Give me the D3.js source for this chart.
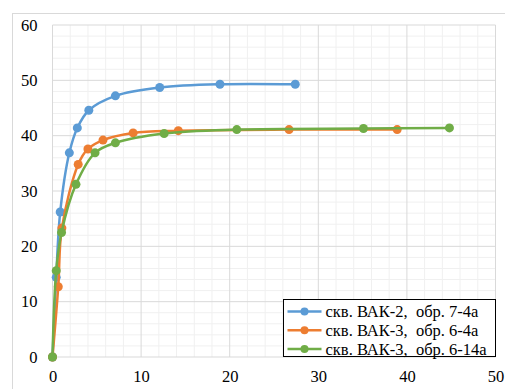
<!DOCTYPE html>
<html>
<head>
<meta charset="utf-8">
<script src="https://cdn.jsdelivr.net/npm/d3@7"></script>
<style>
  body { margin: 0; background: #fff; }
  svg text { font-family: "Liberation Serif", "Times New Roman", serif; }
</style>
</head>
<body>
<div id="chart"></div>
<script>
const width = 505;
const height = 389;

// series data
const names = [
  "скв. ВАК-2,  обр. 7-4а",
  "скв. ВАК-3,  обр. 6-4а",
  "скв. ВАК-3,  обр. 6-14а"
];
const colors = ["#5B9BD5", "#ED7D31", "#70AD47"];

const xBlue = [0, 0.42, 0.87, 1.9, 2.8, 4.1, 7.1, 12.1, 18.9, 27.4];
const yBlue = [0, 14.4, 26.2, 36.9, 41.4, 44.6, 47.2, 48.7, 49.3, 49.3];

const xOrange = [0, 0.65, 1.06, 2.9, 4.0, 5.7, 9.1, 14.2, 26.7, 38.9];
const yOrange = [0, 12.7, 23.3, 34.8, 37.6, 39.2, 40.5, 40.9, 41.1, 41.1];

const xGreen = [0, 0.42, 1.02, 2.65, 4.8, 7.1, 12.6, 20.8, 35.1, 44.8];
const yGreen = [0, 15.6, 22.5, 31.2, 36.9, 38.7, 40.4, 41.1, 41.3, 41.4];

const xTicks = [0, 10, 20, 30, 40, 50];
const yTicks = [0, 10, 20, 30, 40, 50, 60];

const series = [
  { name: names[0], color: colors[0], pts: xBlue.map((x, i) => [x, yBlue[i]]) },
  { name: names[1], color: colors[1], pts: xOrange.map((x, i) => [x, yOrange[i]]) },
  { name: names[2], color: colors[2], pts: xGreen.map((x, i) => [x, yGreen[i]]) }
];

const margin = { top: 25, right: 9.5, bottom: 32, left: 52.5 };

const svg = d3.select("#chart")
  .append("svg")
  .attr("width", width)
  .attr("height", height);

// outer chart border (cut off at right and bottom)
svg.append("rect")
  .attr("x", 12.5).attr("y", 13.5)
  .attr("width", 520).attr("height", 400)
  .attr("fill", "none")
  .attr("stroke", "#d9d9d9");

const x = d3.scaleLinear().domain([0, 50]).range([margin.left, width - margin.right]);
const y = d3.scaleLinear().domain([0, 60]).range([height - margin.bottom, margin.top]);

// minor grid
const minorX = d3.range(0, 51, 2).filter(d => d % 10 !== 0);
const minorY = d3.range(0, 61, 2).filter(d => d % 10 !== 0);

svg.append("g")
  .selectAll("line")
  .data(minorX)
  .enter()
  .append("line")
  .attr("x1", d => x(d)).attr("x2", d => x(d))
  .attr("y1", y(0)).attr("y2", y(60))
  .attr("stroke", "#f0f0f0").attr("stroke-width", 1);

svg.append("g")
  .selectAll("line")
  .data(minorY)
  .enter()
  .append("line")
  .attr("y1", d => y(d)).attr("y2", d => y(d))
  .attr("x1", x(0)).attr("x2", x(50))
  .attr("stroke", "#f0f0f0").attr("stroke-width", 1);

// major grid
svg.append("g")
  .selectAll("line")
  .data(xTicks)
  .enter()
  .append("line")
  .attr("x1", d => x(d)).attr("x2", d => x(d))
  .attr("y1", y(0)).attr("y2", y(60))
  .attr("stroke", "#d9d9d9").attr("stroke-width", 1);

svg.append("g")
  .selectAll("line")
  .data(yTicks)
  .enter()
  .append("line")
  .attr("y1", d => y(d)).attr("y2", d => y(d))
  .attr("x1", x(0)).attr("x2", x(50))
  .attr("stroke", "#d9d9d9").attr("stroke-width", 1);

// axes labels
const xAxis = svg.append("g")
  .attr("transform", `translate(0, ${y(0)})`)
  .call(d3.axisBottom(x).tickValues(xTicks).tickSize(0).tickPadding(13))
  .attr("font-family", "Liberation Serif")
  .attr("font-size", 16.5);
xAxis.select(".domain").remove();
xAxis.selectAll("text").attr("fill", "#000");

const yAxis = svg.append("g")
  .attr("transform", `translate(${x(0)}, 0)`)
  .call(d3.axisLeft(y).tickValues(yTicks).tickSize(0).tickPadding(15))
  .attr("font-family", "Liberation Serif")
  .attr("font-size", 16.5);
yAxis.select(".domain").remove();
yAxis.selectAll("text").attr("fill", "#000");

// lines
const line = d3.line()
  .x(d => x(d[0]))
  .y(d => y(d[1]))
  .curve(d3.curveCatmullRom.alpha(0.5));

const groups = svg.append("g")
  .selectAll("g")
  .data(series)
  .enter()
  .append("g");

groups.append("path")
  .attr("d", d => line(d.pts))
  .attr("fill", "none")
  .attr("stroke", d => d.color)
  .attr("stroke-width", 2.5)
  .attr("stroke-linejoin", "round");

groups.selectAll("circle")
  .data(d => d.pts.map(p => ({ p: p, color: d.color })))
  .enter()
  .append("circle")
  .attr("cx", d => x(d.p[0]))
  .attr("cy", d => y(d.p[1]))
  .attr("r", 4.5)
  .attr("fill", d => d.color);

// legend
const legend = svg.append("g").attr("transform", "translate(283.5, 299.5)");

legend.append("rect")
  .attr("width", 212)
  .attr("height", 57)
  .attr("fill", "#fff")
  .attr("stroke", "#000")
  .attr("stroke-width", 1);

const rows = legend.selectAll("g.row")
  .data(series)
  .enter()
  .append("g")
  .attr("class", "row")
  .attr("transform", (d, i) => `translate(0, ${12 + i * 18.8})`);

rows.append("line")
  .attr("x1", 4).attr("x2", 38)
  .attr("stroke", d => d.color)
  .attr("stroke-width", 2.5);

rows.append("circle")
  .attr("cx", 21).attr("r", 4)
  .attr("fill", d => d.color);

rows.append("text")
  .attr("x", 42)
  .attr("dy", "0.35em")
  .attr("font-size", 16.5)
  .attr("fill", "#000")
  .style("white-space", "pre")
  .text(d => d.name);
</script>
</body>
</html>
